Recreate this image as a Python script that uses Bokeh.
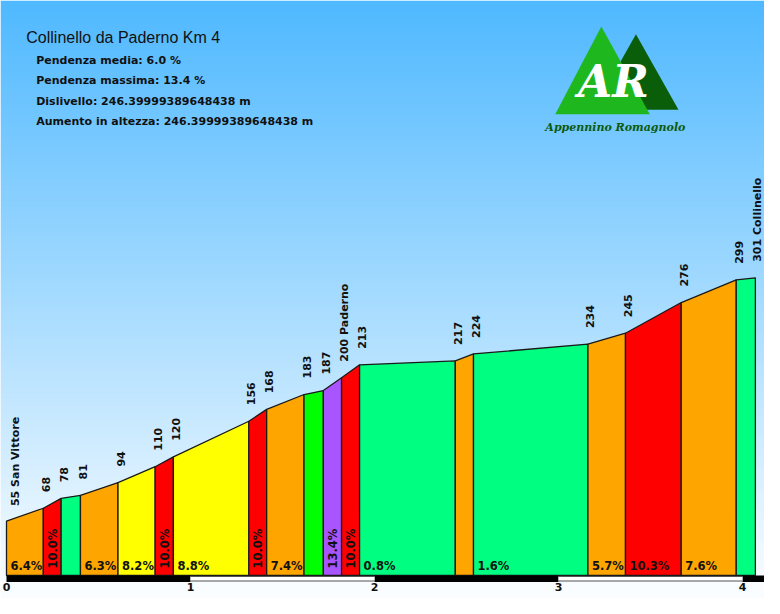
import numpy as np
from math import pi
from bokeh.plotting import figure
from bokeh.models import Range1d, FixedTicker, Label, PolyAnnotation
from bokeh.core.properties import value
from bokeh.embed import file_html
from bokeh.resources import INLINE

# ---------------- data ----------------
km = [0.0, 0.2, 0.297, 0.402, 0.606, 0.808, 0.907, 1.317, 1.414, 1.617,
      1.722, 1.821, 1.919, 2.439, 2.538, 3.160, 3.364, 3.667, 3.966, 4.070]
elev = [55, 68, 78, 81, 94, 110, 120, 156, 168, 183,
        187, 200, 213, 217, 224, 234, 245, 276, 299, 301]
places = ["San Vittore"] + [""] * 10 + ["Paderno"] + [""] * 7 + ["Collinello"]
grades = ["6.4%", "10.0%", "", "6.3%", "8.2%", "10.0%", "8.8%", "10.0%", "7.4%", "",
          "13.4%", "10.0%", "0.8%", "", "1.6%", "5.7%", "10.3%", "7.6%", ""]
seg_colors = ["#FFA500", "#FF0000", "#00FF80", "#FFA500", "#FFFF00", "#FF0000", "#FFFF00",
              "#FF0000", "#FFA500", "#00FF00", "#A855FF", "#FF0000", "#00FF80", "#FFA500",
              "#00FF80", "#FFA500", "#FF0000", "#FFA500", "#00FF80"]
km_ticks = [0, 1, 2, 3, 4]
title = "Collinello da Paderno Km 4"
stats = ["Pendenza media: 6.0 %",
         "Pendenza massima: 13.4 %",
         "Dislivello: 246.39999389648438 m",
         "Aumento in altezza: 246.39999389648438 m"]

# ---------------- geometry ----------------
W, H = 764, 598
FRAME_H = 582
PX_PER_KM = 184.0
X0_PX = 6.0
PX_PER_M = 0.989
BASE_PX = 575.0
x_start = -X0_PX / PX_PER_KM
x_end = (W - X0_PX) / PX_PER_KM
y_end = BASE_PX / PX_PER_M
y_start = -(FRAME_H - BASE_PX) / PX_PER_M


def fx(ref_x):
    fpx = X0_PX + (ref_x - 13) * PX_PER_KM / 186.0
    return x_start + fpx / PX_PER_KM


def fy(ref_y):
    fpx = ref_y - 8
    return y_end - fpx / PX_PER_M


p = figure(width=W, height=H, x_range=Range1d(x_start, x_end), y_range=Range1d(y_start, y_end),
           output_backend="svg", toolbar_location=None, y_axis_location=None,
           min_border_left=0, min_border_right=0, min_border_top=0,
           min_border_bottom=H - FRAME_H)
p.grid.visible = False
p.outline_line_color = None
p.border_fill_color = "#F9FDFF"
p.background_fill_color = "#F9FDFF"

# sky gradient
top = np.array([77, 184, 255], dtype=float)
N = 300
img = np.zeros((N, 1, 4), dtype=np.uint8)
for j in range(N):
    fig_y = FRAME_H - (j + 0.5) * FRAME_H / N
    t = (fig_y + 8) / 614.0
    c = top + (255 - top) * t
    img[j, 0, :3] = np.clip(c, 0, 255).astype(np.uint8)
    img[j, 0, 3] = 255
img32 = img.view(np.uint32).reshape(N, 1)
p.image_rgba(image=[img32], x=x_start, y=y_start, dw=x_end - x_start, dh=y_end - y_start)

# profile segments
xs = [[km[i], km[i], km[i + 1], km[i + 1]] for i in range(len(km) - 1)]
ys = [[0, elev[i], elev[i + 1], 0] for i in range(len(km) - 1)]
p.patches(xs, ys, fill_color=seg_colors, line_color="#1a1a1a", line_width=1.3)

# distance bar: alternating black / white km intervals
m_per_px = 1 / PX_PER_M
edges = km_ticks + [x_end]
bl = [edges[i] for i in range(0, len(edges) - 1, 2)]
br = [edges[i + 1] for i in range(0, len(edges) - 1, 2)]
wl = [edges[i] for i in range(1, len(edges) - 1, 2)]
wr = [edges[i + 1] for i in range(1, len(edges) - 1, 2)]
p.quad(left=bl, right=br, top=0, bottom=-6.5 * m_per_px,
       fill_color="#000000", line_color=None)
p.quad(left=wl, right=wr, top=-0.5 * m_per_px, bottom=-6.0 * m_per_px,
       fill_color="#555555", line_color=None)
p.quad(left=wl, right=wr, top=-1.5 * m_per_px, bottom=-5.0 * m_per_px,
       fill_color="#FFFFFF", line_color=None)

lab_font = value("DejaVu Sans")

# elevation labels
elev_txt = [f"{e} {pl}".strip() for e, pl in zip(elev, places)]
p.text(x=km[:1], y=elev[:1], text=elev_txt[:1], angle=pi / 2, text_align="left",
       text_baseline="middle", x_offset=9, y_offset=-15, text_font=lab_font,
       text_font_style="bold", text_font_size="11px", text_color="#111111")
p.text(x=km[1:], y=elev[1:], text=elev_txt[1:], angle=pi / 2, text_align="left",
       text_baseline="middle", x_offset=2.5, y_offset=-16, text_font=lab_font,
       text_font_style="bold", text_font_size="11px", text_color="#111111")

# grade labels
hx, ht, vx, vt = [], [], [], []
for i, g in enumerate(grades):
    if not g:
        continue
    if km[i + 1] - km[i] < 0.15:
        vx.append((km[i] + km[i + 1]) / 2)
        vt.append(g)
    else:
        hx.append(km[i])
        ht.append(g)
p.text(x=hx, y=[0] * len(hx), text=ht, text_align="left", text_baseline="alphabetic",
       x_offset=4, y_offset=-9.5, text_font=lab_font, text_font_style="bold",
       text_font_size="11.5px", text_color="#111111")
p.text(x=vx, y=[0] * len(vx), text=vt, angle=pi / 2, text_align="left", text_baseline="middle",
       x_offset=0.5, y_offset=-7, text_font=lab_font, text_font_style="bold",
       text_font_size="11.5px", text_color="#111111")

# axis
ax = p.xaxis[0]
ax.ticker = FixedTicker(ticks=km_ticks)
ax.axis_line_color = None
ax.major_tick_line_color = None
ax.minor_tick_line_color = None
ax.major_tick_out = 0
ax.major_tick_in = 0
ax.major_label_standoff = 0
ax.major_label_text_font = "DejaVu Sans"
ax.major_label_text_font_style = "bold"
ax.major_label_text_font_size = "11px"
ax.major_label_text_color = "#111111"

# title and stats
p.add_layout(Label(x=fx(33), y=fy(45.2), text=title, text_font="Liberation Sans",
                   text_font_size="16px", text_color="#111111", text_baseline="middle"))
for k, s in enumerate(stats):
    p.add_layout(Label(x=fx(43), y=fy(67.7 + 20.5 * k), text=s, text_font="DejaVu Sans",
                       text_font_style="bold", text_font_size="11px", text_color="#111111",
                       text_baseline="middle"))

# logo
p.add_layout(PolyAnnotation(xs=[fx(649.3), fx(692.3), fx(606.3)], ys=[fy(41.7), fy(117.3), fy(117.3)],
                            fill_color="#0A5E0A", fill_alpha=1, line_color=None))
p.add_layout(PolyAnnotation(xs=[fx(614.3), fx(663.3), fx(567.7)], ys=[fy(34), fy(121.7), fy(121.7)],
                            fill_color="#1EB81E", fill_alpha=1, line_color=None))
p.add_layout(Label(x=fx(626.5), y=fy(89), text="AR", text_font="DejaVu Serif",
                   text_font_style="bold italic", text_font_size="44px", text_color="#FFFFFF",
                   text_align="center", text_baseline="middle"))
p.add_layout(Label(x=fx(628.5), y=fy(135), text="Appennino Romagnolo", text_font="DejaVu Serif",
                   text_font_style="bold italic", text_font_size="11px", text_color="#0C5A0C",
                   text_align="center", text_baseline="middle"))

open("out.html", "w").write(file_html(p, INLINE))
